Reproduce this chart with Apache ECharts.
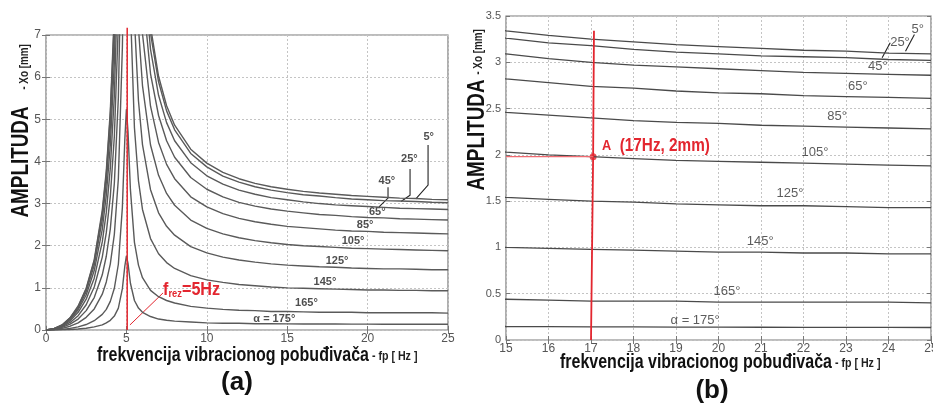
<!DOCTYPE html>
<html><head><meta charset="utf-8">
<script src="https://cdn.jsdelivr.net/npm/echarts@6/dist/echarts.min.js"></script>
<style>html,body{margin:0;padding:0;background:#fff}#c{width:933px;height:405px}</style>
</head><body><div id="c"></div>
<script>
// frequency samples [Hz]
const freq = [0,0.5,1,1.5,2,2.5,3,3.5,3.75,4,4.25,4.5,4.75,4.9,5,5.1,5.25,5.5,5.75,6,6.5,7,7.5,8,9,10,11,12,13,14,15,16,17,18,19,20,21,22,23,24,25];
// amplitude Xo [mm] per angle alpha
const amp5   = [0,0.03,0.12,0.29,0.57,0.99,1.67,2.84,3.78,5.20,7.53,11.9,22.3,34.5,40.1,36.0,25.4,15.9,11.8,9.52,7.20,6.02,5.32,4.86,4.29,3.96,3.74,3.59,3.48,3.40,3.34,3.29,3.25,3.22,3.19,3.17,3.15,3.13,3.12,3.10,3.09];
const amp25  = [0,0.03,0.12,0.29,0.55,0.97,1.63,2.77,3.70,5.09,7.36,11.7,21.8,33.7,39.2,35.2,24.9,15.6,11.5,9.30,7.04,5.89,5.20,4.75,4.19,3.87,3.65,3.51,3.40,3.32,3.26,3.21,3.18,3.14,3.11,3.09,3.07,3.06,3.05,3.03,3.02];
const amp45  = [0,0.03,0.11,0.27,0.52,0.91,1.54,2.62,3.50,4.81,6.97,11.0,20.6,31.9,37.1,33.3,23.5,14.7,10.9,8.80,6.66,5.57,4.92,4.49,3.97,3.66,3.46,3.32,3.22,3.14,3.09,3.04,3.00,2.97,2.95,2.93,2.91,2.89,2.88,2.87,2.86];
const amp65  = [0,0.03,0.10,0.25,0.48,0.83,1.41,2.39,3.20,4.39,6.36,10.1,18.8,29.1,33.8,30.4,21.5,13.5,9.93,8.04,6.08,5.09,4.49,4.10,3.62,3.34,3.16,3.03,2.94,2.87,2.82,2.78,2.74,2.72,2.69,2.67,2.66,2.64,2.63,2.62,2.61];
const amp85  = [0,0.02,0.09,0.22,0.42,0.73,1.23,2.09,2.79,3.84,5.56,8.80,16.4,25.4,29.6,26.6,18.8,11.8,8.68,7.03,5.31,4.45,3.93,3.59,3.16,2.92,2.76,2.65,2.57,2.51,2.46,2.43,2.40,2.37,2.35,2.34,2.32,2.31,2.30,2.29,2.28];
const amp105 = [0,0.02,0.08,0.18,0.34,0.60,1.02,1.73,2.31,3.17,4.59,7.27,13.6,21.0,24.4,22.0,15.5,9.71,7.17,5.80,4.39,3.67,3.24,2.96,2.61,2.41,2.28,2.19,2.12,2.07,2.03,2.00,1.98,1.96,1.94,1.93,1.92,1.91,1.90,1.89,1.88];
const amp125 = [0,0.01,0.06,0.14,0.26,0.46,0.77,1.31,1.75,2.40,3.48,5.51,10.3,15.9,18.5,16.7,11.7,7.36,5.44,4.40,3.33,2.78,2.46,2.25,1.98,1.83,1.73,1.66,1.61,1.57,1.54,1.52,1.50,1.49,1.47,1.46,1.45,1.45,1.44,1.43,1.43];
const amp145 = [0,0.01,0.04,0.09,0.17,0.30,0.50,0.85,1.14,1.57,2.27,3.59,6.71,10.4,12.1,10.9,7.65,4.80,3.54,2.86,2.17,1.81,1.60,1.46,1.29,1.19,1.13,1.08,1.05,1.02,1.00,0.99,0.98,0.97,0.96,0.95,0.95,0.94,0.94,0.93,0.93];
const amp165 = [0,0.004,0.016,0.038,0.074,0.13,0.22,0.37,0.49,0.68,0.99,1.56,2.91,4.51,5.24,4.71,3.33,2.08,1.54,1.24,0.94,0.79,0.70,0.64,0.56,0.52,0.49,0.47,0.46,0.44,0.44,0.43,0.42,0.42,0.42,0.41,0.41,0.41,0.41,0.41,0.40];
const amp175 = [0,0.001,0.005,0.013,0.025,0.043,0.073,0.12,0.17,0.23,0.33,0.52,0.98,1.51,1.76,1.58,1.11,0.70,0.52,0.42,0.32,0.26,0.23,0.21,0.19,0.17,0.16,0.16,0.15,0.15,0.146,0.144,0.142,0.141,0.140,0.139,0.138,0.137,0.137,0.136,0.135];
const curves = [amp5,amp25,amp45,amp65,amp85,amp105,amp125,amp145,amp165,amp175];

// curve labels
const labelNamesA = ['5°','25°','45°','65°','85°','105°','125°','145°','165°','α = 175°'];
const labelNamesB = ['5°','25°','45°','65°','85°','105°','125°','145°','165°','α = 175°'];
// annotation anchors (data units)
const labelAtA = [[23.8,4.58],[22.6,4.06],[21.2,3.54],[20.6,2.80],[19.85,2.49],[19.1,2.11],[18.1,1.64],[17.35,1.14],[16.2,0.64],[14.2,0.26]];
const labelAtB = [[24.69,3.36],[24.27,3.21],[23.75,2.96],[23.28,2.74],[22.79,2.41],[22.27,2.03],[21.68,1.58],[20.98,1.06],[20.2,0.52],[19.45,0.21]];
const arrowsA = [[[23.76,4.39],[23.76,3.44],[23.0,3.11]],[[22.64,3.82],[22.64,3.2],[22.08,3.05]],[[21.27,3.39],[21.27,3.13],[20.71,2.92]]];
const arrowsB = [[[24.61,3.30],[24.4,3.12]],[[24.04,3.21],[23.85,3.05]]];
const fRez = 5.05;           // resonance line [Hz]
const pointA = [17.05,1.98]; // (17Hz, 2mm)
const fRezLabelAt = [7.28,0.95];
const pointALabelAt = [17.26,2.10];

const NARROW = '"Liberation Sans",Arial,sans-serif';
const TICKC = '#555';
const RED = '#e3262f';
const chart = echarts.init(document.getElementById('c'), null, {renderer:'canvas'});

function mkX(gi, min, max, interval, pos, show){
  return {gridIndex:gi, type:'value', min, max, interval, position:pos,
    axisLine:{show:false},
    axisTick:{show:true, inside:true, length:4, lineStyle:{color:'#777'}},
    axisLabel:{show:show, color:TICKC, fontSize:12, fontFamily:NARROW, margin:3},
    splitLine:{show:show, lineStyle:{color:'#c4c4c4', type:[2,2], width:1}}};
}
function mkY(gi, min, max, interval, pos, show, fs){
  return {gridIndex:gi, type:'value', min, max, interval, position:pos,
    axisLine:{show:false},
    axisTick:{show:true, inside:true, length:4, lineStyle:{color:'#777'}},
    axisLabel:{show:show, color:TICKC, fontSize:fs||12, fontFamily:NARROW, margin:5},
    splitLine:{show:show, lineStyle:{color:'#c4c4c4', type:[2,2], width:1}}};
}

const series = [];
curves.forEach((arr)=>{
  const d = freq.map((f,i)=>[f,arr[i]]);
  series.push({type:'line', xAxisIndex:0, yAxisIndex:0, data:d, showSymbol:false, symbol:'none', clip:true, silent:true,
    lineStyle:{color:'#5a5a5a', width:1.4}});
  series.push({type:'line', xAxisIndex:2, yAxisIndex:2, data:d, showSymbol:false, symbol:'none', clip:true, silent:true,
    lineStyle:{color:'#4a4a4a', width:1.3}});
});
series.push({type:'line', xAxisIndex:0, yAxisIndex:0, data:[[fRez,0],[fRez,7.17]], clip:false, symbol:'none',
  lineStyle:{color:RED, width:1.5}});
series.push({type:'line', xAxisIndex:2, yAxisIndex:2, data:[[17.0,0],[pointA[0],pointA[1]],[17.07,3.34]], clip:false, symbol:'none',
  lineStyle:{color:RED, width:1.8}});
series.push({type:'line', xAxisIndex:2, yAxisIndex:2, data:[[15,pointA[1]],[pointA[0],pointA[1]]], clip:false, symbol:'none',
  lineStyle:{color:'#f06a70', width:1.2}});
series.push({type:'scatter', xAxisIndex:2, yAxisIndex:2, data:[pointA], symbolSize:7, itemStyle:{color:RED}});
series.push({type:'scatter', xAxisIndex:0, yAxisIndex:0, symbolSize:0, silent:true,
  data:labelAtA.map((p,i)=>[p[0],p[1],labelNamesA[i]]),
  label:{show:true, position:'inside', formatter:p=>p.value[2], color:'#222', fontSize:11, fontWeight:'bold', fontFamily:NARROW}});
series.push({type:'scatter', xAxisIndex:2, yAxisIndex:2, symbolSize:0, silent:true,
  data:labelAtB.map((p,i)=>[p[0],p[1],labelNamesB[i]]),
  label:{show:true, position:'inside', formatter:p=>p.value[2], color:'#333', fontSize:13, fontFamily:NARROW}});
series.push({type:'lines', coordinateSystem:'cartesian2d', xAxisIndex:0, yAxisIndex:0, polyline:true, silent:true,
  symbol:['none','arrow'], symbolSize:6,
  data:arrowsA.map(c=>({coords:c})), lineStyle:{color:'#222', width:1.1, opacity:1}});
series.push({type:'lines', coordinateSystem:'cartesian2d', xAxisIndex:0, yAxisIndex:0, polyline:true, silent:true,
  symbol:['none','arrow'], symbolSize:6,
  data:[{coords:[[7.28,0.88],[5.22,0.12]]}], lineStyle:{color:RED, width:1, opacity:1}});
series.push({type:'lines', coordinateSystem:'cartesian2d', xAxisIndex:2, yAxisIndex:2, polyline:true, silent:true,
  symbol:['none','arrow'], symbolSize:6,
  data:arrowsB.map(c=>({coords:c})), lineStyle:{color:'#222', width:1.1, opacity:1}});

const option = {
  animation:false,
  backgroundColor:'#fff',
  grid:[
    {left:46, right:485, top:35, bottom:75, show:true, borderColor:'#7a7a7a', borderWidth:1.2, backgroundColor:'transparent', containLabel:false, outerBoundsMode:'none'},
    {left:506, right:2, top:16, bottom:65, show:true, borderColor:'#7a7a7a', borderWidth:1.2, backgroundColor:'transparent', containLabel:false, outerBoundsMode:'none'}
  ],
  xAxis:[mkX(0,0,25,5,'bottom',true), mkX(0,0,25,5,'top',false), mkX(1,15,25,1,'bottom',true), mkX(1,15,25,1,'top',false)],
  yAxis:[mkY(0,0,7,1,'left',true), mkY(0,0,7,1,'right',false), mkY(1,0,3.5,0.5,'left',true,11), mkY(1,0,3.5,0.5,'right',false)],
  series
};
chart.setOption(option);

const SX = 0.82;
const pR = chart.convertToPixel({xAxisIndex:0, yAxisIndex:0}, fRezLabelAt);
const pAL = chart.convertToPixel({xAxisIndex:2, yAxisIndex:2}, pointALabelAt);
function xTitle(x, y){
  return {type:'text', x, y, scaleX:SX, style:{text:'{a|frekvencija vibracionog pobuđivača}{b| - fp [ Hz ]}', verticalAlign:'middle',
    rich:{a:{fontSize:19.5, fontWeight:'bold', fontFamily:NARROW, fill:'#111'}, b:{fontSize:13, fontWeight:'bold', fontFamily:NARROW, fill:'#222'}}}};
}
chart.setOption({graphic:[
  {type:'text', x:22, y:162, rotation:Math.PI/2, scaleX:SX, style:{text:'AMPLITUDA', fontSize:23, fontWeight:'bold', fontFamily:NARROW, fill:'#111', align:'center', verticalAlign:'middle'}},
  {type:'text', x:25, y:67, rotation:Math.PI/2, scaleX:SX, style:{text:'- Xo [mm]', fontSize:12, fontWeight:'bold', fontFamily:NARROW, fill:'#222', align:'center', verticalAlign:'middle'}},
  {type:'text', x:478, y:135, rotation:Math.PI/2, scaleX:SX, style:{text:'AMPLITUDA', fontSize:23, fontWeight:'bold', fontFamily:NARROW, fill:'#111', align:'center', verticalAlign:'middle'}},
  {type:'text', x:479, y:52, rotation:Math.PI/2, scaleX:SX, style:{text:'- Xo [mm]', fontSize:12, fontWeight:'bold', fontFamily:NARROW, fill:'#222', align:'center', verticalAlign:'middle'}},
  xTitle(97, 356),
  xTitle(560, 363),
  {type:'text', x:237, y:383, style:{text:'(a)', fontSize:26, fontWeight:'bold', fontFamily:NARROW, fill:'#111', align:'center', verticalAlign:'middle'}},
  {type:'text', x:712, y:391, style:{text:'(b)', fontSize:26, fontWeight:'bold', fontFamily:NARROW, fill:'#111', align:'center', verticalAlign:'middle'}},
  {type:'text', x:pR[0], y:pR[1], scaleX:0.85, style:{text:'{a|f}{b|rez}{a|=5Hz}', verticalAlign:'middle', fill:RED,
    rich:{a:{fontSize:19, fontWeight:'bold', fontFamily:NARROW, fill:RED}, b:{fontSize:11, fontWeight:'bold', fontFamily:NARROW, fill:RED, padding:[9,0,0,0]}}}},
  {type:'text', x:pAL[0], y:pAL[1], scaleX:0.85, style:{text:'{a|A}   {b|(17Hz, 2mm)}', verticalAlign:'middle', fill:RED,
    rich:{a:{fontSize:15, fontWeight:'bold', fontFamily:NARROW, fill:RED}, b:{fontSize:18, fontWeight:'bold', fontFamily:NARROW, fill:RED}}}}
]});
</script></body></html>
